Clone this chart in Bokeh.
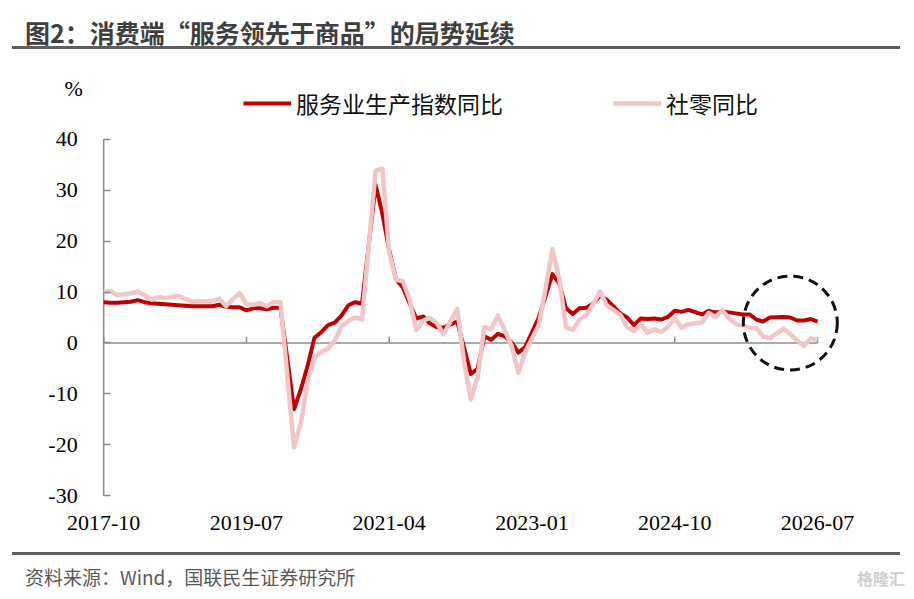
import pandas as pd
from bokeh.plotting import figure
from bokeh.models import Range1d, FixedTicker, Label, Legend, LegendItem, Div
from bokeh.layouts import column
from bokeh.embed import file_html
from bokeh.resources import INLINE

# ---------------- data ----------------
title_text = "图2：消费端“服务领先于商品”的局势延续"
source_text = "资料来源：Wind，国联民生证券研究所"
watermark_text = "格隆汇"
series_names = ["服务业生产指数同比", "社零同比"]
y_unit = "%"

start_month = "2017-10"
end_month = "2026-07"
x_tick_labels = ["2017-10", "2019-07", "2021-04", "2023-01", "2024-10", "2026-07"]
y_ticks = [-30, -20, -10, 0, 10, 20, 30, 40]

# 服务业生产指数同比 (%), January omitted (Jan-Feb combined reported in Feb)
services_2017 = [8.0, 7.9, 7.9]
services_2018 = [8.1, 8.4, 8.0, 7.8, 7.7, 7.6, 7.5, 7.4, 7.3, 7.2, 7.2]
services_2019 = [7.2, 7.5, 7.1, 7.0, 7.0, 6.4, 6.8, 6.8, 6.6, 6.9, 6.9]
services_2020 = [-13.0, -9.1, -4.5, 1.0, 2.1, 3.5, 4.0, 5.4, 7.4, 8.0, 7.7]
services_2021 = [31.0, 25.3, 18.2, 12.5, 10.9, 7.8, 4.8, 5.2, 3.8, 3.1, 3.0]
services_2022 = [4.2, -0.9, -6.1, -5.1, 1.3, 0.6, 1.8, 1.3, 0.1, -1.9, -0.8]
services_2023 = [5.0, 9.2, 13.5, 11.7, 6.8, 5.7, 6.8, 6.9, 7.7, 9.3, 8.5]
services_2024 = [5.8, 5.0, 3.5, 4.8, 4.7, 4.8, 4.6, 5.1, 6.3, 6.1, 6.5]
services_2025 = [5.6, 6.3, 6.0, 6.2, 6.0, 5.8, 5.6, 5.6, 4.6, 4.2, 5.0]
services_2026 = [5.1, 5.0, 4.4, 4.4, 4.7, 4.2]

# 社零同比 (%)
retail_2017 = [10.0, 10.2, 9.4]
retail_2018 = [9.7, 10.1, 9.4, 8.5, 9.0, 8.8, 9.0, 9.2, 8.6, 8.1, 8.2]
retail_2019 = [8.2, 8.7, 7.2, 8.6, 9.8, 7.6, 7.5, 7.8, 7.2, 8.0, 8.0]
retail_2020 = [-20.5, -15.8, -7.5, -2.8, -1.8, -1.1, 0.5, 3.3, 4.3, 5.0, 4.6]
retail_2021 = [33.8, 34.2, 17.7, 12.4, 12.1, 8.5, 2.5, 4.4, 4.9, 3.9, 1.7]
retail_2022 = [6.7, -3.5, -11.1, -6.7, 3.1, 2.7, 5.4, 2.5, -0.5, -5.9, -1.8]
retail_2023 = [3.5, 10.6, 18.4, 12.7, 3.1, 2.5, 4.6, 5.5, 7.6, 10.1, 7.4]
retail_2024 = [5.5, 3.1, 2.3, 3.7, 2.0, 2.7, 2.1, 3.2, 4.8, 3.0, 3.7]
retail_2025 = [4.0, 5.9, 5.1, 6.4, 4.8, 3.7, 3.4, 3.0, 2.9, 1.3, 0.9]
retail_2026 = [2.8, 1.7, 0.5, -0.6, 0.9, 0.6]

# highlighted region (dashed circle)
circle_month = "2026-03"
circle_value = 3.9

services = (services_2017 + services_2018 + services_2019 + services_2020 + services_2021
            + services_2022 + services_2023 + services_2024 + services_2025 + services_2026)
retail = (retail_2017 + retail_2018 + retail_2019 + retail_2020 + retail_2021
          + retail_2022 + retail_2023 + retail_2024 + retail_2025 + retail_2026)

s0 = pd.Timestamp(start_month)


def month_index(d):
    d = pd.Timestamp(d)
    return (d.year - s0.year) * 12 + (d.month - s0.month)


dates = pd.date_range(start_month, end_month, freq="MS")
dates = [d for d in dates if d.month != 1]
x_idx = [month_index(d) for d in dates]
assert len(x_idx) == len(services) == len(retail)

x_tick_pos = [month_index(s) for s in x_tick_labels]

# ---------------- figure ----------------
AXIS_GREY = "#8c8c8c"
RED = "#C00000"
PINK = "#F2C6C6"

p = figure(width=914, height=501, output_backend="svg", toolbar_location=None,
           x_range=Range1d(-9, 110), y_range=Range1d(-32.5, 52.5),
           min_border_left=42, min_border_right=63, min_border_top=26, min_border_bottom=42)
p.outline_line_color = None
p.grid.visible = False
p.background_fill_color = "white"
p.border_fill_color = "white"

# y axis, anchored at the first month
p.yaxis.fixed_location = x_tick_pos[0]
p.yaxis.ticker = FixedTicker(ticks=y_ticks)
p.yaxis.major_label_overrides = {t: str(t) for t in y_ticks}
p.yaxis.major_tick_in = 7
p.yaxis.major_tick_out = 0
p.yaxis.minor_tick_line_color = None
p.yaxis.axis_line_color = None
p.yaxis.major_tick_line_color = AXIS_GREY
p.yaxis.major_tick_line_width = 1.5
p.yaxis.major_label_text_font = "Liberation Serif"
p.yaxis.major_label_text_font_size = "22px"
p.yaxis.major_label_text_color = "black"
p.yaxis.major_label_standoff = 26

# y axis rule limited to the tick span
p.segment(x0=[x_tick_pos[0]], y0=[y_ticks[0]], x1=[x_tick_pos[0]], y1=[y_ticks[-1]],
          line_color=AXIS_GREY, line_width=1.5)

# x axis (labels only at bottom)
p.xaxis.ticker = FixedTicker(ticks=x_tick_pos)
p.xaxis.major_label_overrides = dict(zip(x_tick_pos, x_tick_labels))
p.xaxis.axis_line_color = None
p.xaxis.major_tick_line_color = None
p.xaxis.minor_tick_line_color = None
p.xaxis.major_label_text_font = "Liberation Serif"
p.xaxis.major_label_text_font_size = "22px"
p.xaxis.major_label_text_color = "black"
p.xaxis.major_label_standoff = 1

# zero line with upward ticks
p.segment(x0=[x_tick_pos[0]], y0=[0], x1=[x_tick_pos[-1]], y1=[0],
          line_color=AXIS_GREY, line_width=1.5)
p.segment(x0=x_tick_pos, y0=[0] * len(x_tick_pos), x1=x_tick_pos, y1=[1.2] * len(x_tick_pos),
          line_color=AXIS_GREY, line_width=1.5)

r1 = p.line(x_idx, services, line_color=RED, line_width=4, line_join="round")
r2 = p.line(x_idx, retail, line_color=PINK, line_width=4.5, line_join="round")

# dashed highlight circle
p.scatter(x=[month_index(circle_month)], y=[circle_value], marker="circle", size=94,
          fill_color=None, line_color="#111111", line_width=3, line_dash="10 6")

legend = Legend(items=[LegendItem(label=series_names[0], renderers=[r1]),
                       LegendItem(label=series_names[1], renderers=[r2])],
                orientation="horizontal", location=(201, 388), padding=0, margin=0,
                spacing=110, label_standoff=5, glyph_width=48, glyph_height=24,
                label_height=24, label_text_font="Noto Sans CJK SC",
                label_text_font_size="23px", label_text_color="#111111",
                background_fill_alpha=0, border_line_color=None)
p.add_layout(legend)

p.add_layout(Label(x=x_tick_pos[0], y=y_ticks[-1], x_offset=-30, y_offset=51, text=y_unit,
                   text_align="center", text_baseline="middle",
                   text_font="Liberation Serif", text_font_size="22px", text_color="black"))

# ---------------- header / footer ----------------
title_div = Div(width=914, height=49, margin=0, text=(
    '<div style="position:relative;width:914px;height:49px;">'
    '<div style="position:absolute;left:25px;top:20px;font-family:\'Noto Sans CJK SC\';'
    'font-weight:bold;font-size:25px;line-height:25px;color:#3f3f3f;white-space:nowrap;">'
    f'{title_text}</div>'
    '<div style="position:absolute;left:12px;top:46px;width:888px;height:3px;background:#5f5f5f;"></div>'
    '</div>'))

source_div = Div(width=914, height=48, margin=0, text=(
    '<div style="position:relative;width:914px;height:48px;">'
    '<div style="position:absolute;left:12px;top:2px;width:888px;height:3px;background:#5f5f5f;"></div>'
    '<div style="position:absolute;left:25px;top:17px;font-family:\'Noto Sans CJK SC\';'
    'font-size:19px;line-height:19px;color:#595959;white-space:nowrap;">'
    f'{source_text}</div>'
    '<div style="position:absolute;right:9px;top:20px;font-family:\'Noto Sans CJK SC\';'
    'font-weight:bold;font-size:16px;line-height:16px;color:#cfcfcf;white-space:nowrap;">'
    f'{watermark_text}</div>'
    '</div>'))

layout = column(title_div, p, source_div, spacing=0)

open("out.html", "w").write(file_html(layout, INLINE))
